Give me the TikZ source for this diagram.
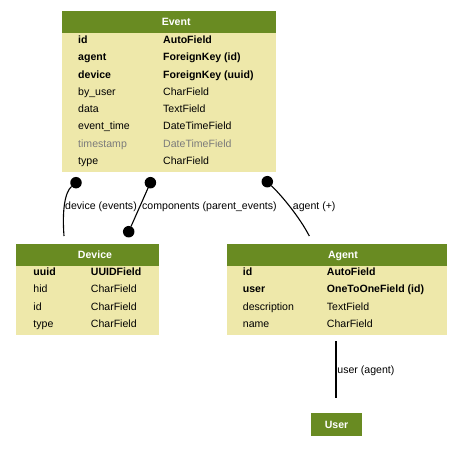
\documentclass[tikz,border=0pt]{standalone}
\usepackage{fontspec}
\setmainfont{Liberation Sans}
\definecolor{headgreen}{HTML}{698B22}
\definecolor{palegold}{HTML}{EEE8AA}
\definecolor{graytxt}{HTML}{7B7B7B}
\newcommand\fs{\fontsize{10.6}{12.7}\selectfont}
\begin{document}
\begin{tikzpicture}[x=1bp,y=-1bp,
  tbl/.style={fill=palegold, draw=none, inner sep=0, outer sep=0, anchor=north west},
  head/.style={fill=headgreen, draw=none, inner sep=0, outer sep=0, anchor=north west},
  title/.style={anchor=base, text=white, font=\fs\bfseries, inner sep=0},
  fld/.style={anchor=base west, inner sep=0, font=\fs},
  fldb/.style={anchor=base west, inner sep=0, font=\fs\bfseries},
  fldg/.style={anchor=base west, inner sep=0, font=\fs, text=graytxt},
  lbl/.style={anchor=base west, inner sep=0, font=\fs},
  blob/.style={circle, fill=black, minimum size=11.5bp, inner sep=0, outer sep=0},
  rel/.style={draw=black, line width=1.1bp}]
\useasboundingbox (0,0) rectangle (463,453);
\fill[white] (0,0) rectangle (463,453);

% Event
\node[tbl, minimum width=214.3bp, minimum height=161bp] (event) at (61.7,11) {};
\node[head, minimum width=214.3bp, minimum height=22bp] (eventhead) at (61.7,11) {};
\node[title] (eventtitle) at (176.2,25.7) {Event};
\node[fldb] (ev1a) at (78,43.5) {id};          \node[fldb] (ev1b) at (163,43.5) {AutoField};
\node[fldb] (ev2a) at (78,60.8) {agent};       \node[fldb] (ev2b) at (163,60.8) {ForeignKey (id)};
\node[fldb] (ev3a) at (78,78.1) {device};      \node[fldb] (ev3b) at (163,78.1) {ForeignKey (uuid)};
\node[fld]  (ev4a) at (78,95.4) {by\_user};    \node[fld]  (ev4b) at (163,95.4) {CharField};
\node[fld]  (ev5a) at (78,112.7) {data};       \node[fld]  (ev5b) at (163,112.7) {TextField};
\node[fld]  (ev6a) at (78,130.0) {event\_time};\node[fld]  (ev6b) at (163,130.0) {DateTimeField};
\node[fldg] (ev7a) at (78,147.3) {timestamp};  \node[fldg] (ev7b) at (163,147.3) {DateTimeField};
\node[fld]  (ev8a) at (78,164.6) {type};       \node[fld]  (ev8b) at (163,164.6) {CharField};

% Device
\node[tbl, minimum width=143bp, minimum height=91.5bp] (device) at (16,243.5) {};
\node[head, minimum width=143bp, minimum height=22bp] (devicehead) at (16,243.5) {};
\node[title] (devicetitle) at (95,258.2) {Device};
\node[fldb] (dv1a) at (33.3,275.5) {uuid};  \node[fldb] (dv1b) at (90.7,275.5) {UUIDField};
\node[fld]  (dv2a) at (33.3,292.9) {hid};   \node[fld]  (dv2b) at (90.7,292.9) {CharField};
\node[fld]  (dv3a) at (33.3,310.3) {id};    \node[fld]  (dv3b) at (90.7,310.3) {CharField};
\node[fld]  (dv4a) at (33.3,327.7) {type};  \node[fld]  (dv4b) at (90.7,327.7) {CharField};

% Agent
\node[tbl, minimum width=219.7bp, minimum height=91.5bp] (agent) at (227.3,243.5) {};
\node[head, minimum width=219.7bp, minimum height=22bp] (agenthead) at (227.3,243.5) {};
\node[title] (agenttitle) at (343,258.2) {Agent};
\node[fldb] (ag1a) at (242.7,275.5) {id};          \node[fldb] (ag1b) at (326.7,275.5) {AutoField};
\node[fldb] (ag2a) at (242.7,292.9) {user};        \node[fldb] (ag2b) at (326.7,292.9) {OneToOneField (id)};
\node[fld]  (ag3a) at (242.7,310.3) {description}; \node[fld]  (ag3b) at (326.7,310.3) {TextField};
\node[fld]  (ag4a) at (242.7,327.7) {name};        \node[fld]  (ag4b) at (326.7,327.7) {CharField};

% User
\node[head, minimum width=51bp, minimum height=23bp] (user) at (311,413) {};
\node[title] (usertitle) at (336.5,428.2) {User};

% dots and end points
\node[blob] (d1) at (76,182.7) {};
\node[blob] (d2) at (150.4,182.7) {};
\node[blob] (d3) at (267.3,181.7) {};
\node[blob] (d4) at (128.7,231.7) {};
\coordinate (e1) at (64,236);
\coordinate (e3) at (309.3,236);
\coordinate (u1) at (336,341);
\coordinate (u2) at (336,398);

% connectors
\draw[rel] (d1) .. controls (65,192) and (62,210) .. (e1);
\draw[rel] (d2) -- (d4);
\draw[rel] (d3) .. controls (283,197) and (300,218) .. (e3);
\draw[rel] (u1) -- (u2);

% labels
\node[lbl] (l1) at (65,209.5) {device (events)};
\node[lbl] (l2) at (142,209.5) {components (parent\_events)};
\node[lbl] (l3) at (292.7,209.5) {agent (+)};
\node[lbl] (l4) at (337.2,373.5) {user (agent)};
\end{tikzpicture}
\end{document}
